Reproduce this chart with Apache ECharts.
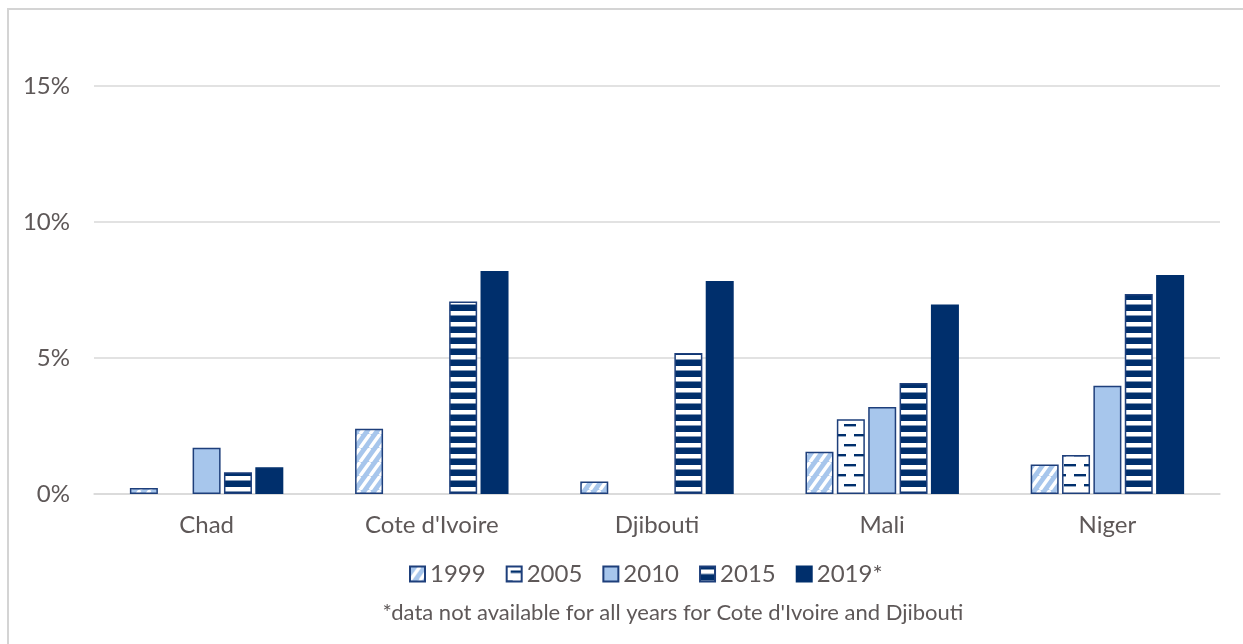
<!DOCTYPE html>
<html>
<head>
<meta charset="utf-8">
<script src="https://cdn.jsdelivr.net/npm/echarts@6/dist/echarts.min.js"></script>
<style>
html,body{margin:0;padding:0;background:#fff;}
#chart{width:1243px;height:644px;}
</style>
</head>
<body>
<div id="chart"></div>
<script>
var categories = ['Chad', "Cote d'Ivoire", 'Djibouti', 'Mali', 'Niger'];
var seriesNames = ['1999', '2005', '2010', '2015', '2019*'];
var v1999 = [0.22, 2.40, 0.46, 1.55, 1.08];
var v2005 = [null, null, null, 2.75, 1.43];
var v2010 = [1.70, null, null, 3.20, 3.98];
var v2015 = [0.80, 7.08, 5.18, 4.08, 7.35];
var v2019 = [0.98, 8.20, 7.83, 6.97, 8.05];
var yTicks = [0, 5, 10, 15];
var footnote = "*data not available for all years for Cote d'Ivoire and Djibouti";

var LIGHT = '#A7C6EC';
var NAVY = '#002F6C';
var EDGE = '#1E3F7B';
var TEXT = '#5E5858';
var FONT = 'Lato, "Open Sans", sans-serif';

function makeCanvas(w, h, draw) {
  var c = document.createElement('canvas');
  c.width = w; c.height = h;
  draw(c.getContext('2d'), w, h);
  return c;
}
// 1999: light blue with white diagonal stripes
var pat1999 = makeCanvas(10, 14, function (ctx, w, h) {
  ctx.fillStyle = LIGHT; ctx.fillRect(0, 0, w, h);
  ctx.strokeStyle = '#ffffff'; ctx.lineWidth = 3.4;
  for (var k = -1; k <= 1; k++) {
    ctx.beginPath();
    ctx.moveTo(k * w, h);
    ctx.lineTo(k * w + w, 0);
    ctx.stroke();
  }
});
// 2005: white with staggered dark dashes
var pat2005 = makeCanvas(20, 20, function (ctx, w, h) {
  ctx.fillStyle = '#ffffff'; ctx.fillRect(0, 0, w, h);
  ctx.fillStyle = NAVY;
  ctx.fillRect(4, 4, 12, 2.4);
  ctx.fillRect(14, 14, 6, 2.4);
  ctx.fillRect(0, 14, 6, 2.4);
});
// 2015: horizontal navy / white stripes
var pat2015 = makeCanvas(8, 11, function (ctx, w, h) {
  ctx.fillStyle = NAVY; ctx.fillRect(0, 0, w, h);
  ctx.fillStyle = '#ffffff'; ctx.fillRect(0, 3, w, 4.5);
});

var fills = [
  { image: pat1999, repeat: 'repeat' },
  { image: pat2005, repeat: 'repeat' },
  LIGHT,
  { image: pat2015, repeat: 'repeat' },
  NAVY
];
var values = [v1999, v2005, v2010, v2015, v2019];

var series = seriesNames.map(function (name, i) {
  return {
    name: name,
    type: 'bar',
    data: values[i],
    barWidth: 28,
    barGap: '12%',
    itemStyle: { color: fills[i], borderColor: i === 4 ? NAVY : EDGE, borderWidth: 1.5 }
  };
});

var chart = echarts.init(document.getElementById('chart'), null, { renderer: 'canvas' });
chart.setOption({
  backgroundColor: '#ffffff',
  animation: false,
  textStyle: { fontFamily: FONT },
  grid: { left: 94, right: 23, top: 86, bottom: 150, containLabel: false },
  legend: {
    data: seriesNames,
    top: 557,
    left: 404,
    itemWidth: 15,
    itemHeight: 15,
    itemGap: 20,
    icon: 'rect',
    textStyle: { color: TEXT, fontSize: 24, fontFamily: FONT, padding: [0, 0, 0, 0] }
  },
  xAxis: {
    type: 'category',
    data: categories,
    axisTick: { show: false },
    axisLine: { lineStyle: { color: '#D9D9D9', width: 1.5 } },
    axisLabel: { color: TEXT, fontSize: 24, fontFamily: FONT, margin: 19 }
  },
  yAxis: {
    type: 'value',
    min: yTicks[0],
    max: yTicks[yTicks.length - 1],
    interval: 5,
    axisLine: { show: false },
    axisTick: { show: false },
    splitLine: { lineStyle: { color: '#D9D9D9', width: 1.5 } },
    axisLabel: { color: TEXT, fontSize: 24, fontFamily: FONT, margin: 24, formatter: '{value}%' }
  },
  graphic: [
    {
      type: 'rect',
      shape: { x: 8, y: 9, width: 1400, height: 800 },
      style: { fill: 'none', stroke: '#D4D4D4', lineWidth: 2 },
      silent: true
    },
    {
      type: 'text',
      x: 673,
      y: 613,
      style: { text: footnote, fill: TEXT, fontSize: 22, fontFamily: FONT, textAlign: 'center', textVerticalAlign: 'middle' },
      silent: true
    }
  ],
  series: series
});
</script>
</body>
</html>
